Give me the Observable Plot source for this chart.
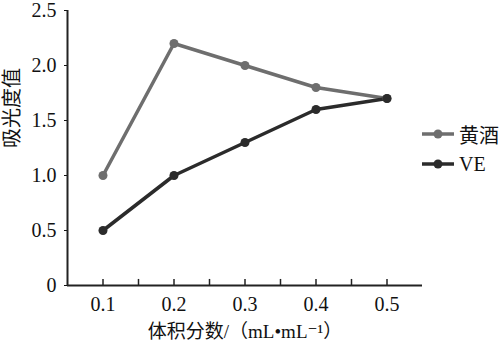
<!DOCTYPE html>
<html>
<head>
<meta charset="utf-8">
<script src="https://cdn.jsdelivr.net/npm/d3@7"></script>
<script src="https://cdn.jsdelivr.net/npm/@observablehq/plot@0.6"></script>
<style>
  body { margin: 0; background: #fff; }
  #wrap { position: relative; width: 502px; height: 351px; font-family: "Times New Roman", "Liberation Serif", "DejaVu Serif", "Noto Sans CJK SC", serif; }
  #legend { position: absolute; left: 422px; top: 119px; font-size: 20px; color: #111; }
  .item { display: flex; align-items: center; height: 30px; }
  .item svg { margin-right: 5px; }
</style>
</head>
<body>
<div id="wrap"><div id="legend"></div></div>
<script>
const categories = [0.1, 0.2, 0.3, 0.4, 0.5];
const huangjiu = [1.0, 2.2, 2.0, 1.8, 1.7];
const ve = [0.5, 1.0, 1.3, 1.6, 1.7];
const seriesNames = ["黄酒", "VE"];
const seriesColors = ["#6e6e6e", "#2b2b2b"];
const yTicks = [0, 0.5, 1.0, 1.5, 2.0, 2.5];
const xTickMarks = [0.1, 0.15, 0.2, 0.25, 0.3, 0.35, 0.4, 0.45, 0.5];
const yTitle = "吸光度值";
const xTitle = "体积分数/（mL•mL⁻¹）";

const data = [];
categories.forEach((c, i) => {
  data.push({x: c, y: huangjiu[i], s: seriesNames[0]});
  data.push({x: c, y: ve[i], s: seriesNames[1]});
});

const font = "'Times New Roman', 'Liberation Serif', 'DejaVu Serif', 'Noto Sans CJK SC', serif";

const chart = Plot.plot({
  width: 502,
  height: 351,
  marginLeft: 67,
  marginRight: 80,
  marginTop: 10,
  marginBottom: 66,
  style: {fontFamily: font, fontSize: "20px", color: "#111", background: "white"},
  x: {domain: [0.05, 0.55]},
  y: {domain: [0, 2.5]},
  color: {domain: seriesNames, range: seriesColors},
  marks: [
    Plot.axisY({ticks: yTicks, tickSize: 3, tickPadding: 8, tickFormat: d => d === 0 ? "0" : d.toFixed(1), label: null, fontSize: 20}),
    Plot.axisX({ticks: categories, tickSize: 0, tickPadding: 11, tickFormat: d => d.toFixed(1), label: null, fontSize: 20}),
    Plot.ruleX(xTickMarks, {y1: 0, y2: 0.055, stroke: "#222", strokeWidth: 1.5}),
    Plot.ruleX([0.05], {stroke: "#222", strokeWidth: 2}),
    Plot.ruleY([0], {stroke: "#222", strokeWidth: 2}),
    Plot.line(data, {x: "x", y: "y", z: "s", stroke: "s", strokeWidth: 3.5}),
    Plot.dot(data, {x: "x", y: "y", fill: "s", r: 4.5}),
    Plot.text([yTitle], {frameAnchor: "left", dx: -55, rotate: -90, fontSize: 20, fill: "#111"}),
    Plot.text([xTitle], {frameAnchor: "bottom", dy: 52, fontSize: 19, fill: "#111"})
  ]
});
document.getElementById("wrap").prepend(chart);
chart.style.position = "absolute";
chart.style.left = "0";
chart.style.top = "0";

const legend = document.getElementById("legend");
seriesNames.forEach((name, i) => {
  const item = document.createElement("div");
  item.className = "item";
  item.innerHTML = `<svg width="32" height="12"><line x1="0" y1="6" x2="32" y2="6" stroke="${seriesColors[i]}" stroke-width="3.5"/><circle cx="16" cy="6" r="4.5" fill="${seriesColors[i]}"/></svg><span>${name}</span>`;
  legend.appendChild(item);
});
</script>
</body>
</html>
